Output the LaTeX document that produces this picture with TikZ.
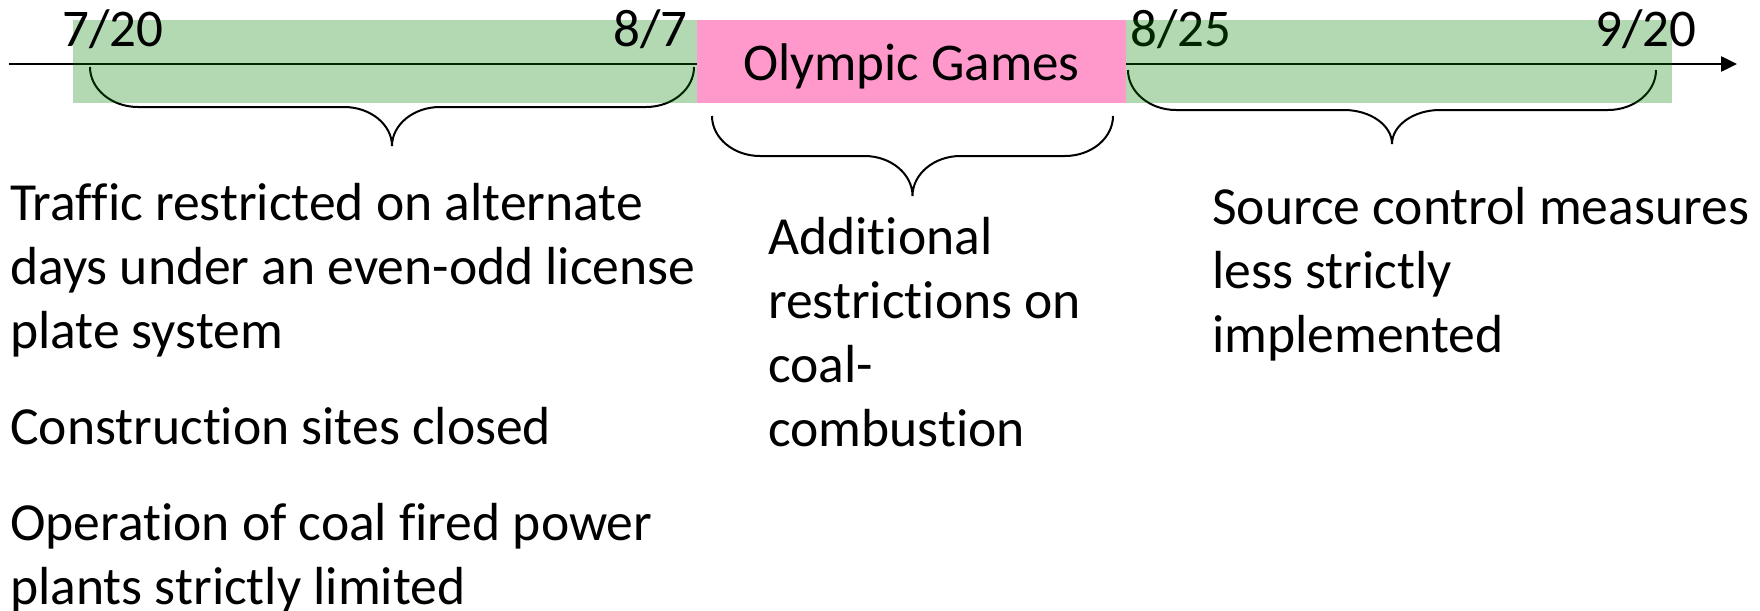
\documentclass[tikz,border=0pt]{standalone}
\usepackage{fontspec}
\setmainfont[Ligatures={NoCommon}]{Carlito}
\usetikzlibrary{arrows.meta}
\newcommand\br{48}
\newcommand\hbrace[6]{% name, x1, x2, ytop, ymid, ytip
  \draw[bracestyle] (#2,#4) .. controls (#2,{#4+0.55*(#5-#4)}) and ({#2+0.45*\br},#5) .. ({#2+\br},#5)
    -- ({(#2+#3)/2-\br},#5) .. controls ({(#2+#3)/2-0.45*\br},#5) and ({(#2+#3)/2},{#5+0.45*(#6-#5)}) .. ({(#2+#3)/2},#6)
    coordinate (#1)
    .. controls ({(#2+#3)/2},{#5+0.45*(#6-#5)}) and ({(#2+#3)/2+0.45*\br},#5) .. ({(#2+#3)/2+\br},#5)
    -- ({#3-\br},#5) .. controls ({#3-0.45*\br},#5) and (#3,{#4+0.55*(#5-#4)}) .. (#3,#4);}
\begin{document}
\begin{tikzpicture}[x=1pt,y=-1pt,
  bracestyle/.style={draw=black,line width=2pt},
  txt/.style={font=\fontsize{53.6}{64}\selectfont,inner sep=0pt,align=left},
  datelbl/.style={font=\fontsize{53}{64}\selectfont,inner sep=0pt},
  greenband/.style={fill={rgb,255:red,0;green,128;blue,0},fill opacity=0.3,draw=none},
  pinkband/.style={fill={rgb,255:red,255;green,153;blue,204},draw=none}]
\useasboundingbox (0,0) rectangle (1760,610);
% axis
\coordinate (axs) at (9,64);
\coordinate (axe) at (1737,64);
\draw[line width=2.5pt,-{Triangle[length=16pt,width=15pt]}] (axs) -- (axe);
% braces
\hbrace{tipA}{90}{694}{67}{107}{146}
\hbrace{tipB}{712}{1113}{116}{156}{196}
\hbrace{tipC}{1128}{1656}{70}{110}{144}
% label under overlay
\node[datelbl,anchor=base west] (d3) at (1130,47) {8/25};
% bands
\fill[greenband] (73,20) rectangle (697,103);
\fill[greenband] (1126,20) rectangle (1672,103);
\node[pinkband,minimum width=429pt,minimum height=83pt,anchor=north west] (og) at (697,20) {};
\node[datelbl,anchor=base] (ogt) at (911.5,81) {Olympic Games};
% dates on top
\node[datelbl,anchor=base west] (d1) at (62,47) {7/20};
\node[datelbl,anchor=base east] (d2) at (688,47) {8/7};
\node[datelbl,anchor=base west] (d4) at (1595,47) {9/20};
% texts (base anchor = baseline of last line)
\node[txt,anchor=base west] (tA) at (10,604) {Traffic restricted on alternate\\ days under an even-odd license\\ plate system\\[32pt] Construction sites closed\\[32pt] Operation of coal fired power\\ plants strictly limited};
\node[txt,anchor=base west] (tB) at (768,446) {Additional\\ restrictions on\\ coal-\\ combustion};
\node[txt,anchor=base west] (tC) at (1212,352) {Source control measures\\ less strictly\\ implemented};
\end{tikzpicture}
\end{document}
